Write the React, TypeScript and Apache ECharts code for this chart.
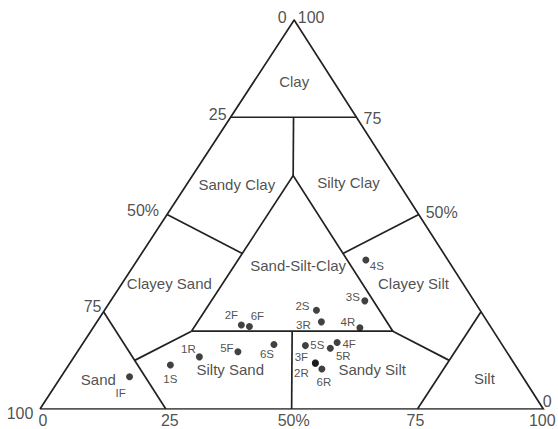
import React, { useEffect, useRef } from "react";
import * as echarts from "echarts";

// ---- Sample data (percent sand / silt / clay) ----
const sampleNames = ["IF", "1S", "1R", "5F", "2F", "6F", "6S", "2S", "3R", "4R", "3S", "4S", "5S", "4F", "5R", "3F", "2R", "6R"];
const sandPct = [78.1, 68.5, 61.7, 53.4, 49.3, 47.9, 45.3, 32.5, 33.0, 26.1, 21.7, 16.3, 39.2, 32.5, 34.6, 39.4, 39.5, 38.9];
const siltPct = [13.6, 20.2, 24.9, 31.9, 29.1, 30.9, 38.1, 42.1, 44.6, 53.0, 50.5, 45.4, 44.5, 50.4, 49.8, 48.7, 48.8, 50.8];
const clayPct = [8.3, 11.3, 13.4, 14.7, 21.6, 21.2, 16.6, 25.4, 22.4, 20.9, 27.8, 38.3, 16.3, 17.1, 15.6, 11.9, 11.7, 10.3];

// ---- Tick labels ----
const sandTickValues = [0, 25, 50, 75, 100];
const sandTickLabels = ["0", "25", "50%", "75", "100"];
const siltTickValues = [0, 25, 50, 75, 100];
const siltTickLabels = ["0", "25", "50%", "75", "100"];
const clayTickValues = [100, 75, 50, 0];
const clayTickLabels = ["100", "75", "50%", "0"];

// ---- Shepard classes ----
const classNames = ["Clay", "Sandy Clay", "Silty Clay", "Sand-Silt-Clay", "Clayey Sand", "Clayey Silt", "Sand", "Silty Sand", "Sandy Silt", "Silt"];

// class boundaries as [sand, silt, clay] vertex lists
const boundaries: number[][][] = [
  [[100, 0, 0], [0, 100, 0], [0, 0, 100], [100, 0, 0]],
  [[25, 0, 75], [0, 25, 75]],
  [[12.5, 12.5, 75], [20, 20, 60]],
  [[60, 20, 20], [20, 20, 60], [20, 60, 20], [60, 20, 20]],
  [[50, 0, 50], [40, 20, 40]],
  [[0, 50, 50], [20, 40, 40]],
  [[75, 0, 25], [75, 25, 0]],
  [[60, 20, 20], [75, 12.5, 12.5]],
  [[0, 75, 25], [25, 75, 0]],
  [[20, 60, 20], [12.5, 75, 12.5]],
  [[40, 40, 20], [50, 50, 0]],
];

// ---- layout / style (not data) ----
const APEX = 0.505;
const FONT = "'Liberation Sans', Arial, Helvetica, sans-serif";
const INK = "#222";
const classLabelAt: number[][] = [
  [50.5, 84.1], [39.1, 57.8], [61.3, 58.3], [51.3, 37.0], [25.7, 32.3],
  [74.2, 32.3], [11.6, 7.7], [37.8, 10.2], [66.0, 10.2], [88.3, 7.9],
];
const sampleLabelOffset: Record<string, number[]> = {
  IF: [-9, 16], "1S": [0, 14], "1R": [-11, -8], "5F": [-11, -4], "2F": [-10, -10],
  "6F": [8, -11], "6S": [-7, 10], "2S": [-14, -4], "3R": [-18, 3], "4R": [-12, -6],
  "3S": [-12, -4], "4S": [11, 6], "5S": [12, -1], "4F": [12, 2], "5R": [13, 8],
  "3F": [-14, -6], "2R": [-14, 10], "6R": [2, 13],
};
const sandTickOffset = [[-12, -3], [-13, -3], [-24, -4], [-11, -5], [-20, 4]];
const siltTickOffset = [[3, 11], [4, 11], [2, 11], [-2, 11], [-1, 11]];
const clayTickOffset = [[17, -3], [16, 1], [23, -2], [4, -8]];

const toXY = (sand: number, silt: number, clay: number) => [silt + clay * APEX, clay];

export default function App() {
  const ref = useRef<HTMLDivElement>(null);
  useEffect(() => {
    document.body.style.margin = "0";
    if (!ref.current) return;
    const chart = echarts.init(ref.current, undefined, { renderer: "svg" });

    const samples = sampleNames.map((n, i) => ({
      name: n,
      value: toXY(sandPct[i], siltPct[i], clayPct[i]),
      label: { offset: sampleLabelOffset[n] },
    }));

    const tickItems: any[] = [];
    sandTickValues.forEach((s, i) =>
      tickItems.push({ name: sandTickLabels[i], value: toXY(s, 0, 100 - s), label: { offset: sandTickOffset[i] } })
    );
    siltTickValues.forEach((t, i) =>
      tickItems.push({ name: siltTickLabels[i], value: toXY(100 - t, t, 0), label: { offset: siltTickOffset[i] } })
    );
    clayTickValues.forEach((c, i) =>
      tickItems.push({ name: clayTickLabels[i], value: toXY(0, 100 - c, c), label: { offset: clayTickOffset[i] } })
    );

    const classItems = classNames.map((n, i) => ({ name: n, value: classLabelAt[i] }));

    chart.setOption({
      animation: false,
      backgroundColor: "#fff",
      grid: { left: 40, right: 14.7, top: 20, bottom: 20, containLabel: false },
      xAxis: { type: "value", min: 0, max: 100, show: false },
      yAxis: { type: "value", min: 0, max: 100, show: false },
      series: [
        {
          type: "lines",
          coordinateSystem: "cartesian2d",
          polyline: true,
          silent: true,
          lineStyle: { color: INK, width: 1.7, opacity: 1 },
          data: boundaries.map((b) => ({ coords: b.map((p) => toXY(p[0], p[1], p[2])) })),
        },
        {
          type: "scatter",
          symbolSize: 7,
          itemStyle: { color: "#111" },
          silent: true,
          data: samples,
          label: {
            show: true,
            position: "inside",
            formatter: "{b}",
            fontSize: 11.5,
            lineHeight: 11,
            fontFamily: FONT,
            color: INK,
          },
        },
        {
          type: "scatter",
          symbolSize: 1,
          itemStyle: { color: "transparent" },
          silent: true,
          data: classItems,
          label: {
            show: true,
            position: "inside",
            formatter: "{b}",
            fontSize: 15,
            lineHeight: 14,
            fontFamily: FONT,
            color: INK,
          },
        },
        {
          type: "scatter",
          symbolSize: 1,
          itemStyle: { color: "transparent" },
          silent: true,
          data: tickItems,
          label: {
            show: true,
            position: "inside",
            formatter: "{b}",
            fontSize: 16,
            lineHeight: 16,
            fontFamily: FONT,
            color: INK,
          },
        },
      ],
    });
    return () => chart.dispose();
  }, []);
  return <div ref={ref} style={{ width: 558, height: 429 }} />;
}
